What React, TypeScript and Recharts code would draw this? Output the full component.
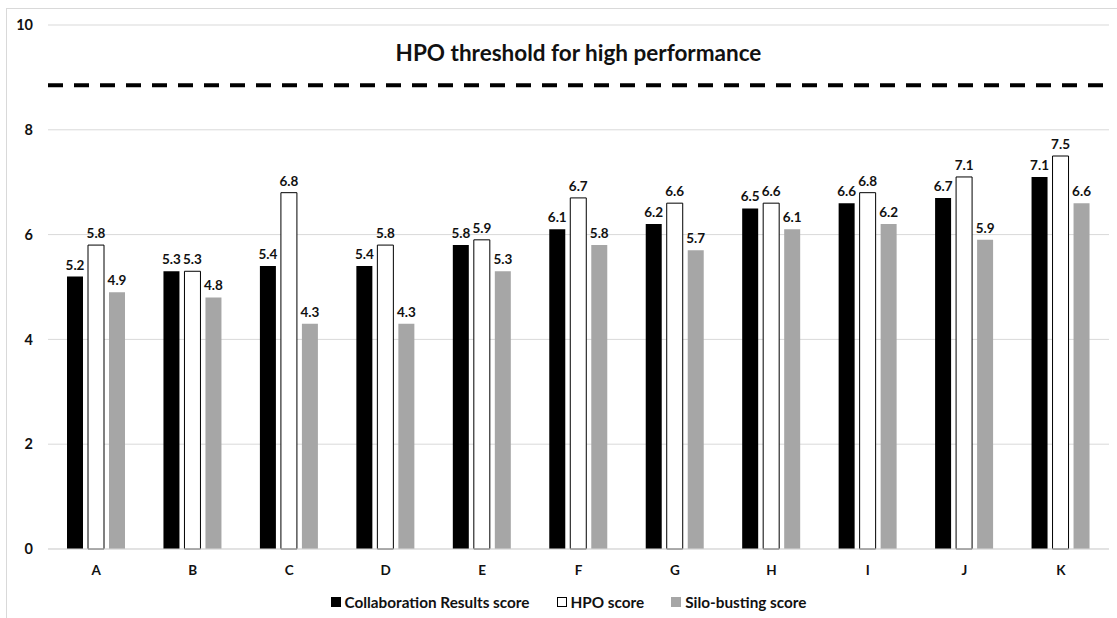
import { BarChart, Bar, XAxis, YAxis, CartesianGrid, ReferenceLine, Legend, LabelList } from 'recharts'

const categories = ['A', 'B', 'C', 'D', 'E', 'F', 'G', 'H', 'I', 'J', 'K']
const collaborationScores = [5.2, 5.3, 5.4, 5.4, 5.8, 6.1, 6.2, 6.5, 6.6, 6.7, 7.1]
const hpoScores = [5.8, 5.3, 6.8, 5.8, 5.9, 6.7, 6.6, 6.6, 6.8, 7.1, 7.5]
const siloScores = [4.9, 4.8, 4.3, 4.3, 5.3, 5.8, 5.7, 6.1, 6.2, 5.9, 6.6]
const yTicks = [0, 2, 4, 6, 8, 10]
const hpoThreshold = 8.85

const FONT = 'Lato, "Open Sans", sans-serif'
const INK = '#111'

const series = [
  { key: 'collab', name: 'Collaboration Results score', fill: '#000000', stroke: 'none' },
  { key: 'hpo', name: 'HPO score', fill: '#ffffff', stroke: '#000000' },
  { key: 'silo', name: 'Silo-busting score', fill: '#a6a6a6', stroke: 'none' },
]

const data = categories.map((name, i) => ({
  name,
  collab: collaborationScores[i],
  hpo: hpoScores[i],
  silo: siloScores[i],
}))

function ScoreLegend() {
  return (
    <div
      style={{
        display: 'flex',
        justifyContent: 'center',
        alignItems: 'center',
        gap: 27,
        paddingTop: 13,
        paddingLeft: 28,
        fontFamily: FONT,
        fontWeight: 700,
        fontSize: 15.3,
        lineHeight: '20px',
        color: INK,
      }}
    >
      {series.map(s => (
        <div key={s.key} style={{ display: 'flex', alignItems: 'center', gap: 4 }}>
          <span
            style={{
              display: 'inline-block',
              width: 10,
              height: 10,
              boxSizing: 'border-box',
              background: s.fill,
              border: s.stroke === 'none' ? 'none' : `1px solid ${s.stroke}`,
            }}
          />
          <span>{s.name}</span>
        </div>
      ))}
    </div>
  )
}

export default function App() {
  const labelStyle = { fontFamily: FONT, fontWeight: 700, fontSize: 13.5, fill: INK }
  return (
    <div style={{ position: 'absolute', left: 0, top: 0, width: 1117, height: 618, background: '#fff' }}>
      {/* thin frame around the chart */}
      <div
        style={{
          position: 'absolute',
          left: 6,
          top: 8,
          width: 1120,
          height: 620,
          borderLeft: '1px solid #d9d9d9',
          borderTop: '1px solid #d9d9d9',
        }}
      />
      <div
        style={{
          position: 'absolute',
          left: 0,
          width: 1157,
          top: 39,
          textAlign: 'center',
          fontFamily: FONT,
          fontWeight: 700,
          fontSize: 22.5,
          lineHeight: '27px',
          color: INK,
        }}
      >
        HPO threshold for high performance
      </div>
      <BarChart
        width={1117}
        height={618}
        data={data}
        margin={{ top: 25, right: 8, bottom: 10, left: 0 }}
        barSize={16}
        barGap={5}
        style={{ position: 'absolute', left: 0, top: 0 }}
      >
        <CartesianGrid vertical={false} stroke="#d9d9d9" />
        <XAxis
          dataKey="name"
          axisLine={{ stroke: '#d9d9d9' }}
          tickLine={false}
          tickSize={0}
          tickMargin={16}
          height={30}
          tick={{ fontFamily: FONT, fontWeight: 700, fontSize: 13.5, fill: INK }}
        />
        <YAxis
          domain={[0, 10]}
          ticks={yTicks}
          width={48}
          axisLine={false}
          tickLine={false}
          tickSize={0}
          tickMargin={15}
          tick={{ fontFamily: FONT, fontWeight: 700, fontSize: 14.5, fill: INK }}
        />
        <ReferenceLine y={hpoThreshold} stroke="#000" strokeWidth={4} strokeDasharray="15 11" />
        <Legend verticalAlign="bottom" height={29} content={() => <ScoreLegend />} />
        {series.map(s => (
          <Bar
            key={s.key}
            dataKey={s.key}
            name={s.name}
            fill={s.fill}
            stroke={s.stroke}
            strokeWidth={1}
            isAnimationActive={false}
          >
            <LabelList dataKey={s.key} position="top" offset={7} style={labelStyle} />
          </Bar>
        ))}
      </BarChart>
    </div>
  )
}
